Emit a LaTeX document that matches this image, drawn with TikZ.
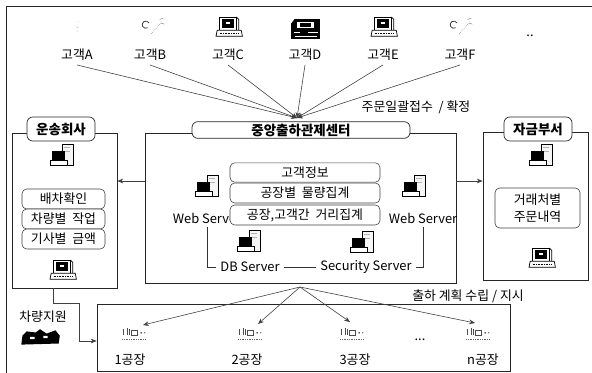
\documentclass[tikz,border=0pt]{standalone}
\usepackage{fontspec}
\setmainfont{Noto Sans CJK KR}
\usetikzlibrary{arrows.meta}

\begin{document}
\begin{tikzpicture}[x=0.03cm, y=-0.03cm,
        font=\fontsize{11}{14}\selectfont,
        frame/.style={rectangle, draw=black!85, line width=0.6pt},
        title/.style={rectangle, rounded corners=5pt, draw=black!85, fill=white, line width=0.6pt, inner sep=0pt, font=\fontsize{11.5}{14}\selectfont\bfseries},
        item/.style={rectangle, rounded corners=4pt, draw=black!75, fill=white, line width=0.5pt, inner sep=0pt, align=center},
        feed/.style={-{Stealth[length=5pt, width=4pt]}, black!75, line width=0.5pt},
        link/.style={black!80, line width=0.5pt},
        icon/.style={scale=1.2},
        server/.pic={
            \draw[fill=gray!8, line width=0.4pt] (0,-11) rectangle (9,7);
            \draw[gray!60, line width=0.3pt] (2,-8) -- (7,-8) (2,-5) -- (7,-5);
            \draw[line width=0.4pt, fill=black] (-8,-5) rectangle (2,3);
            \draw[fill=white, line width=0.4pt] (-10,3) rectangle (4,7);
        },
        computer/.pic={
            \draw[line width=0.8pt, fill=white] (-7,-10) rectangle (7,1);
            \fill[black] (-5,-8) rectangle (5,-1);
            \fill[white] (-2,-6) rectangle (2,-4);
            \draw[line width=0.6pt] (7,-10) -- (9,-8) -- (9,1);
            \draw[line width=0.6pt, fill=white] (-9,1) -- (11,1) -- (12,6) -- (-10,6) -- cycle;
            \draw[densely dotted, line width=0.4pt] (-7,3.5) -- (9,3.5);
        },
        mobile/.pic={
            \draw[black!75, line width=0.7pt] (-2,-1) arc[start angle=60, end angle=330, radius=3];
            \draw[gray, densely dotted, line width=0.5pt] (1,4) -- (10,-6);
            \draw[gray, line width=0.4pt] (8,-8) -- (11,-9) (9,-5) -- (12,-4);
        },
        faint/.pic={
            \draw[gray!45, line width=0.4pt] (-1,-5) -- (1,-5) (-2,-1) -- (1,0) (-1,2) -- (0,3);
        },
        fax/.pic={
            \fill[black] (-12,-9) rectangle (13,9);
            \fill[white] (-7,-6) rectangle (8,-1);
            \fill[black] (-4,-5) rectangle (5,-2);
            \draw[white, line width=0.6pt] (-10,3) -- (-4,3) (3,3) -- (11,3) (-9,6) -- (10,6);
            \fill[white] (-12,-9) -- (-9,-9) -- (-12,-5) -- cycle;
        },
        plant/.pic={
            \draw[black!70, line width=0.4pt] (-9,-4) -- (-9,1) (-6,-5) -- (-6,1) (-4,-4) -- (-4,1);
            \draw[black!70, line width=0.4pt] (-2,-3) rectangle (3,1);
            \draw[black!60, densely dotted, line width=0.5pt] (-10,4) -- (10,4);
            \fill[black!70] (6,-1) circle (0.8) (9,-1) circle (0.6);
        },
        truck/.pic={
            \fill[black] (-16,-2) -- (-12,-6) -- (-4,-5) -- (0,-8) -- (6,-4) -- (14,-7) -- (18,-2) -- (17,5) -- (-17,6) -- cycle;
            \fill[white] (-9,-1) rectangle (-5,1) (3,-2) rectangle (7,0);
        }
    ]
        \useasboundingbox (0,0) rectangle (592,373);
        % outer frame
        \draw[black!85, line width=0.6pt] (6,373) -- (6,6) -- (592,6);

        % customers
        \node (cA) at (77,55) {고객A};
        \node (cB) at (150,55) {고객B};
        \node (cC) at (228,55) {고객C};
        \node (cD) at (305,55) {고객D};
        \node (cE) at (383,55) {고객E};
        \node (cF) at (460,55) {고객F};
        \node (cmore) at (530,36) {..};
        \pic[icon] at (78,28) {faint};
        \pic[icon] at (150,29) {mobile};
        \pic[icon] at (228,29) {computer};
        \pic[scale=1.15] at (305,29) {fax};
        \pic[icon] at (383,29) {computer};
        \pic[icon] at (458,29) {mobile};

        \coordinate (hubT) at (297,118);
        \foreach \c in {cA,cB,cC,cD,cE,cF}
            \draw[feed] (\c.south) -- (hubT);
        \node (orderin) at (416,107) {주문일괄접수\ \ / 확정};

        % control center
        \node[frame, minimum width=9.33cm, minimum height=4.5cm] (ctr) at (300.5,208) {};
        \node[title, minimum width=6.54cm, minimum height=0.5cm] (ctrT) at (301,130) {중앙출하관제센터};
        \pic[icon] at (207,188) {server};
        \node (wsL) at (207,218) {Web Server};
        \pic[icon] at (414,188) {server};
        \node (wsR) at (423,218) {Web Server};
        \node[item, minimum width=4.5cm, minimum height=0.58cm] (info) at (305,172.5) {고객정보};
        \node[item, minimum width=4.5cm, minimum height=0.6cm] (vol) at (305,193) {공장별\ \ 물량집계};
        \node[item, minimum width=4.5cm, minimum height=0.6cm] (dist) at (305,215) {공장,고객간\ \ 거리집계};
        \pic[icon] at (249,243) {server};
        \node (db) at (250,267) {DB Server};
        \pic[icon] at (362,244) {server};
        \node (sec) at (366,267) {Security Server};
        \draw[link] (wsL.south) |- (db.west);
        \draw[link] (db.east) -- (sec.west);
        \draw[link] (sec.east) -| (wsR.south);

        % shipping company
        \node[frame, minimum width=3.15cm, minimum height=4.65cm] (ship) at (64.5,210.5) {};
        \node[title, minimum width=2.04cm, minimum height=0.72cm] (shipT) at (61,129) {운송회사};
        \pic[icon] at (62,157) {server};
        \node[item, minimum width=2.49cm, minimum height=0.6cm] (disp) at (63.5,199) {배차확인};
        \node[item, minimum width=2.49cm, minimum height=0.6cm] (job) at (63.5,219) {차량별\ \ 작업};
        \node[item, minimum width=2.49cm, minimum height=0.6cm] (pay) at (63.5,239) {기사별\ \ 금액};
        \pic[icon] at (62,272) {computer};

        % finance department
        \node[frame, minimum width=3.15cm, minimum height=4.44cm] (fund) at (535.5,206) {};
        \node[title, minimum width=2.04cm, minimum height=0.72cm] (fundT) at (538,129) {자금부서};
        \pic[icon] at (541,157) {server};
        \node[item, minimum width=2.55cm, minimum height=1.2cm] (orders) at (537.5,208) {거래처별\\주문내역};
        \pic[icon] at (541,260) {computer};

        \coordinate (midrow) at (300,181);
        \draw[feed] (ctr.west |- midrow) -- (ship.east |- midrow);
        \draw[feed] (ctr.east |- midrow) -- (fund.west |- midrow);

        % plants
        \node[frame, minimum width=12.39cm, minimum height=2.01cm] (plants) at (303.5,337.5) {};
        \node (p1) at (130,360) {1공장};
        \node (p2) at (247,360) {2공장};
        \node (p3) at (355,360) {3공장};
        \node (pn) at (483,360) {n공장};
        \node (pmore) at (420,340) {...};
        \pic[icon] at (134,334) {plant};
        \pic[icon] at (250,334) {plant};
        \pic[icon] at (352,334) {plant};
        \pic[icon] at (478,334) {plant};
        \coordinate (hubB) at (300,287);
        \coordinate (t1) at (143,325);
        \coordinate (t2) at (258,324);
        \coordinate (t3) at (350,322);
        \coordinate (tn) at (475,323);
        \foreach \t in {t1,t2,t3,tn}
            \draw[feed] (hubB) -- (\t);
        \node (plan) at (468,296) {출하\ 계획\ 수립\ / 지시};

        % vehicle support
        \coordinate (v1) at (53,303);
        \coordinate (v2) at (79,341);
        \draw[feed] (ship.south -| v1) -- (v1) -| (v2) -- (plants.west |- v2);
        \node (support) at (43,317) {차량지원};
        \pic[scale=1.1] at (40,338) {truck};
\end{tikzpicture}
\end{document}
